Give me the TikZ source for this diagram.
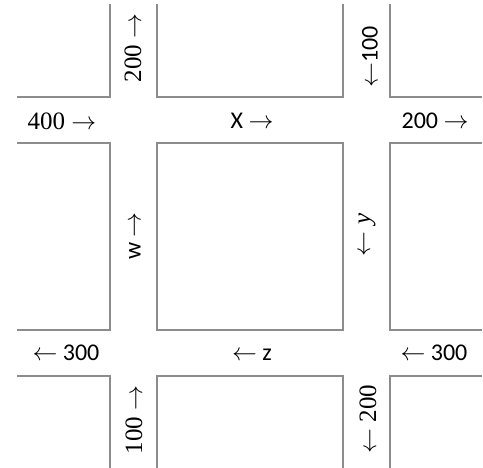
\documentclass[tikz,border=0pt]{standalone}
\usepackage{fontspec}
\setsansfont{Carlito}
\newfontfamily\serifnum{Liberation Serif}
\begin{document}
\begin{tikzpicture}[x=1pt,y=-1pt]
\tikzset{
  kerb/.style={draw=black!45,line width=1.5pt},
  lbl/.style={font=\fontsize{24}{28}\selectfont\sffamily,inner sep=0pt},
  lblr/.style={font=\fontsize{25}{29}\selectfont\serifnum,inner sep=0pt}
}
\useasboundingbox (0,0) rectangle (483,468);
% blocks
\draw[kerb] (17,97)--(110,97)--(110,4);
\draw[kerb] (157,4)--(157,97)--(343,97)--(343,4);
\draw[kerb] (390,4)--(390,97)--(482,97);
\draw[kerb] (17,143)--(110,143)--(110,330)--(17,330);
\draw[kerb] (157,143) rectangle (343,330);
\draw[kerb] (482,143)--(390,143)--(390,330)--(482,330);
\draw[kerb] (17,376)--(110,376)--(110,468);
\draw[kerb] (157,468)--(157,376)--(343,376)--(343,468);
\draw[kerb] (482,376)--(390,376)--(390,468);
% flows
\node[lblr] (west) at (62,121) {400 $\rightarrow$};
\node[lbl] (xflow) at (252,121) {X $\rightarrow$};
\node[lbl] (east) at (435,121) {200 $\rightarrow$};
\node[lblr,rotate=90] (nw) at (133,48) {200 $\rightarrow$};
\node[lbl,rotate=90] (ne) at (370,57) {$\leftarrow$100};
\node[lbl,rotate=90] (wflow) at (135,236) {w $\rightarrow$};
\node[lblr,rotate=90] (yflow) at (367,235) {$\leftarrow$ \itshape y};
\node[lbl] (sw) at (66,353) {$\leftarrow$ 300};
\node[lbl] (zflow) at (252,355) {$\leftarrow$ z};
\node[lbl] (se) at (434,353) {$\leftarrow$ 300};
\node[lblr,rotate=90] (sl) at (134,420) {100 $\rightarrow$};
\node[lblr,rotate=90] (sr) at (368,419) {$\leftarrow$ 200};
\end{tikzpicture}
\end{document}
